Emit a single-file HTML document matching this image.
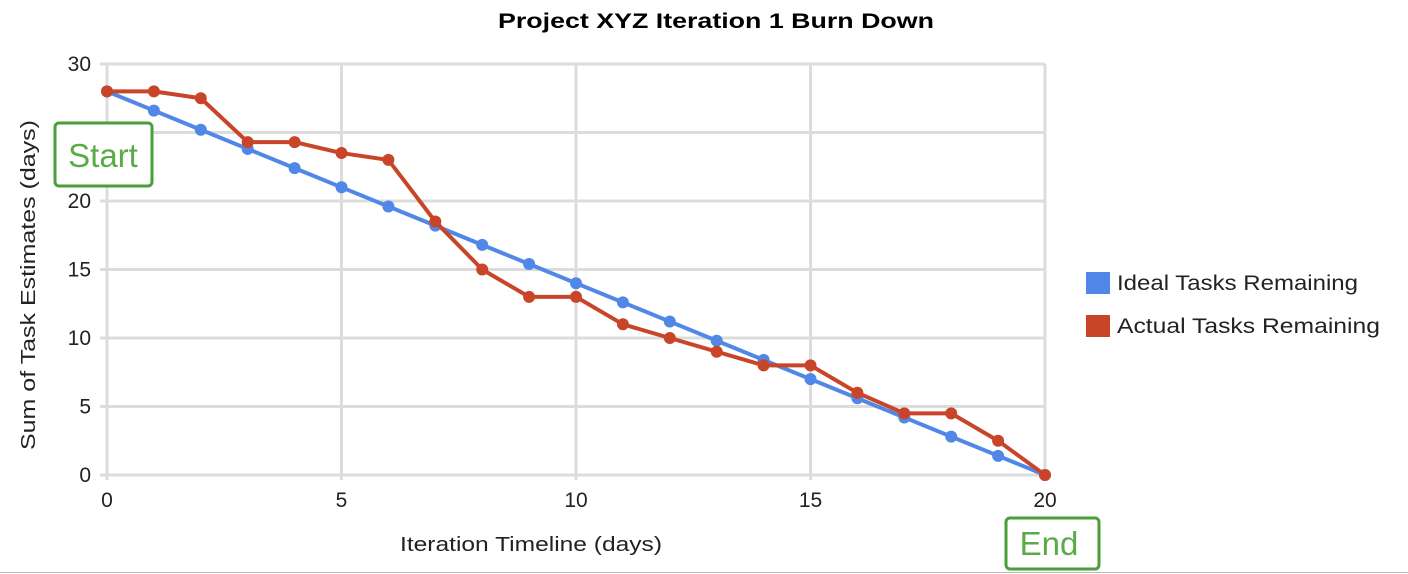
<!DOCTYPE html>
<html><head><meta charset="utf-8"><style>
html,body{margin:0;padding:0;background:#fff;width:1408px;height:574px;overflow:hidden;font-family:"Liberation Sans",sans-serif;}
</style></head><body>
<svg id="chart" width="1408" height="574" xmlns="http://www.w3.org/2000/svg" font-family="Liberation Sans, sans-serif">
<text x="716" y="28" text-anchor="middle" font-size="21" font-weight="bold" fill="#000" textLength="436" lengthAdjust="spacingAndGlyphs">Project XYZ Iteration 1 Burn Down</text>
<g id="grid"></g>
<g id="axes"></g>
<g id="series"></g>
<text transform="translate(35,285) rotate(-90)" text-anchor="middle" font-size="20" fill="#222" textLength="330" lengthAdjust="spacingAndGlyphs">Sum of Task Estimates (days)</text>
<text x="531" y="551" text-anchor="middle" font-size="20" fill="#222" textLength="262" lengthAdjust="spacingAndGlyphs">Iteration Timeline (days)</text>
<g>
<rect x="1086" y="272" width="24" height="22" fill="#5187e6"/>
<text x="1117" y="290" font-size="21" fill="#222" textLength="241" lengthAdjust="spacingAndGlyphs">Ideal Tasks Remaining</text>
<rect x="1086" y="315" width="24" height="22" fill="#c9452a"/>
<text x="1117" y="333" font-size="21" fill="#222" textLength="263" lengthAdjust="spacingAndGlyphs">Actual Tasks Remaining</text>
</g>
<g>
<rect x="55" y="123" width="97" height="63" rx="4" fill="#fff" stroke="#4a9e3c" stroke-width="3"/>
<text x="103" y="167" text-anchor="middle" font-size="33" fill="#5aab48">Start</text>
</g>
<g>
<rect x="1006" y="518" width="93" height="51" rx="4" fill="#fff" stroke="#4a9e3c" stroke-width="3"/>
<text x="1049" y="555" text-anchor="middle" font-size="33" fill="#5aab48">End</text>
</g>
<line x1="0" y1="572.5" x2="1408" y2="572.5" stroke="#bbb" stroke-width="1"/>
</svg>
<script>
const days = [0,1,2,3,4,5,6,7,8,9,10,11,12,13,14,15,16,17,18,19,20];
const idealRemaining = [28,26.6,25.2,23.8,22.4,21,19.6,18.2,16.8,15.4,14,12.6,11.2,9.8,8.4,7,5.6,4.2,2.8,1.4,0];
const actualRemaining = [28,28,27.5,24.3,24.3,23.5,23,18.5,15,13,13,11,10,9,8,8,6,4.5,4.5,2.5,0];
const xTicks = [0,5,10,15,20];
const yTicks = [0,5,10,15,20,25,30];

const NS = "http://www.w3.org/2000/svg";
const X0=107, X1=1045, Y0=475, Y1=64;
const xs = v => X0 + (v/20)*(X1-X0);
const ys = v => Y0 - (v/30)*(Y0-Y1);
function mk(tag, attrs, parent){const e=document.createElementNS(NS,tag);for(const k in attrs)e.setAttribute(k,attrs[k]);parent.appendChild(e);return e;}
const grid=document.getElementById('grid'), axes=document.getElementById('axes'), series=document.getElementById('series');
yTicks.forEach(t=>{
  const l=mk('line',{x1:100,x2:X1,y1:ys(t),y2:ys(t),stroke:'#dcdcdc','stroke-width':3},grid);
  
  
  const tx=mk('text',{x:91,y:ys(t)+7,'text-anchor':'end','font-size':21,fill:'#222'},axes);
  tx.textContent=t;
  
  
});
xTicks.forEach(t=>{
  const l=mk('line',{x1:xs(t),x2:xs(t),y1:Y1,y2:Y0+5,stroke:'#dcdcdc','stroke-width':3},grid);
  
  
  const tx=mk('text',{x:xs(t),y:507,'text-anchor':'middle','font-size':21,fill:'#222'},axes);
  tx.textContent=t;
  
  
});
function drawSeries(vals,color,name){
  const p=mk('polyline',{points:days.map((d,i)=>xs(d)+','+ys(vals[i])).join(' '),fill:'none',stroke:color,'stroke-width':4,'stroke-linejoin':'round'},series);
  
  
  days.forEach((d,i)=>{
    const c=mk('circle',{cx:xs(d),cy:ys(vals[i]),r:6,fill:color},series);
    
    
  });
}
drawSeries(idealRemaining,'#5187e6','ideal');
drawSeries(actualRemaining,'#c9452a','actual');
</script>
</body></html>
